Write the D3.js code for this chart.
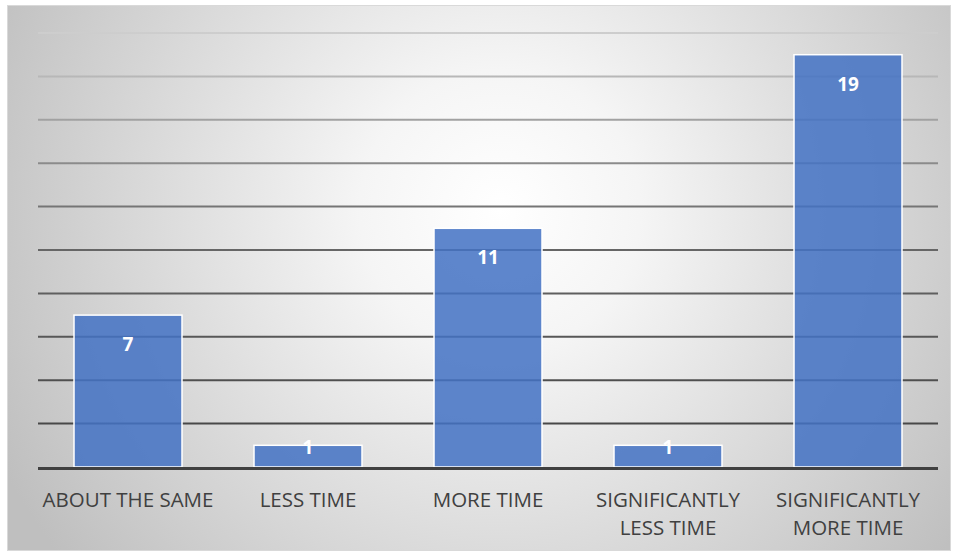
<!DOCTYPE html>
<html>
<head>
<meta charset="utf-8">
<script src="https://cdn.jsdelivr.net/npm/d3@7"></script>
<style>
html,body{margin:0;padding:0;background:#fff;}
svg{display:block;}
</style>
</head>
<body>
<svg id="chart" width="959" height="554"></svg>
<script>
const categories = [["ABOUT THE SAME"], ["LESS TIME"], ["MORE TIME"], ["SIGNIFICANTLY", "LESS TIME"], ["SIGNIFICANTLY", "MORE TIME"]];
const values = [7, 1, 11, 1, 19];
const gridTicks = [0, 2, 4, 6, 8, 10, 12, 14, 16, 18, 20];

(function () {
const svg = d3.select("#chart");
const defs = svg.append("defs");

const rg = defs.append("radialGradient").attr("id", "bg")
  .attr("gradientUnits", "userSpaceOnUse")
  .attr("cx", 500).attr("cy", 210).attr("r", 560);
rg.append("stop").attr("offset", "0%").attr("stop-color", "#ffffff");
rg.append("stop").attr("offset", "25%").attr("stop-color", "#f5f5f5");
rg.append("stop").attr("offset", "100%").attr("stop-color", "#bfbfbf");

const lg = defs.append("linearGradient").attr("id", "gridGrad")
  .attr("gradientUnits", "userSpaceOnUse")
  .attr("x1", 0).attr("y1", 30).attr("x2", 0).attr("y2", 470);
lg.append("stop").attr("offset", "0%").attr("stop-color", "#cfcfcf");
lg.append("stop").attr("offset", "45%").attr("stop-color", "#6a6a6a");
lg.append("stop").attr("offset", "100%").attr("stop-color", "#404040");

svg.append("rect").attr("x", 7.5).attr("y", 5.5).attr("width", 943).attr("height", 545)
  .attr("fill", "url(#bg)").attr("stroke", "#d9d9d9").attr("stroke-width", 1);

const pLeft = 38, pRight = 938, pTop = 33, pBottom = 467;

const x = d3.scaleBand().domain(d3.range(values.length)).range([pLeft, pRight]).paddingInner(0.4).paddingOuter(0.2);
const y = d3.scaleLinear().domain([0, 20]).range([pBottom, pTop]);

svg.append("g").selectAll("line").data(gridTicks.filter(d => d > 0)).join("line")
  .attr("x1", pLeft).attr("x2", pRight)
  .attr("y1", d => y(d)).attr("y2", d => y(d))
  .attr("stroke", "url(#gridGrad)").attr("stroke-width", 2);

svg.append("g").selectAll("rect").data(values).join("rect")
  .attr("x", (d, i) => x(i))
  .attr("y", d => y(d))
  .attr("width", x.bandwidth())
  .attr("height", d => pBottom - y(d))
  .attr("fill", "#4472C4").attr("fill-opacity", 0.86)
  .attr("stroke", "#ffffff").attr("stroke-width", 1.5);

svg.append("line").attr("x1", pLeft).attr("x2", pRight).attr("y1", y(0) + 1.5).attr("y2", y(0) + 1.5)
  .attr("stroke", "#404040").attr("stroke-width", 3);

svg.append("g").selectAll("text").data(values).join("text")
  .attr("x", (d, i) => x(i) + x.bandwidth() / 2)
  .attr("y", d => Math.min(y(d) + 29, pBottom - 20))
  .attr("text-anchor", "middle").attr("dominant-baseline", "central")
  .attr("fill", "#ffffff").attr("font-weight", "bold")
  .attr("font-family", "'Open Sans', 'Noto Sans', sans-serif").attr("font-size", 19)
  .text(d => d);

const cat = svg.append("g").selectAll("text").data(categories).join("text")
  .attr("x", (d, i) => x(i) + x.bandwidth() / 2)
  .attr("y", 507)
  .attr("text-anchor", "middle")
  .attr("fill", "#404040")
  .attr("font-family", "'Open Sans', 'Noto Sans', sans-serif").attr("font-size", 20.5);
cat.each(function(d) {
  const t = d3.select(this);
  d.forEach((line, j) => {
    t.append("tspan").attr("x", t.attr("x")).attr("dy", j === 0 ? 0 : 28).text(line);
  });
});
})();
</script>
</body>
</html>
